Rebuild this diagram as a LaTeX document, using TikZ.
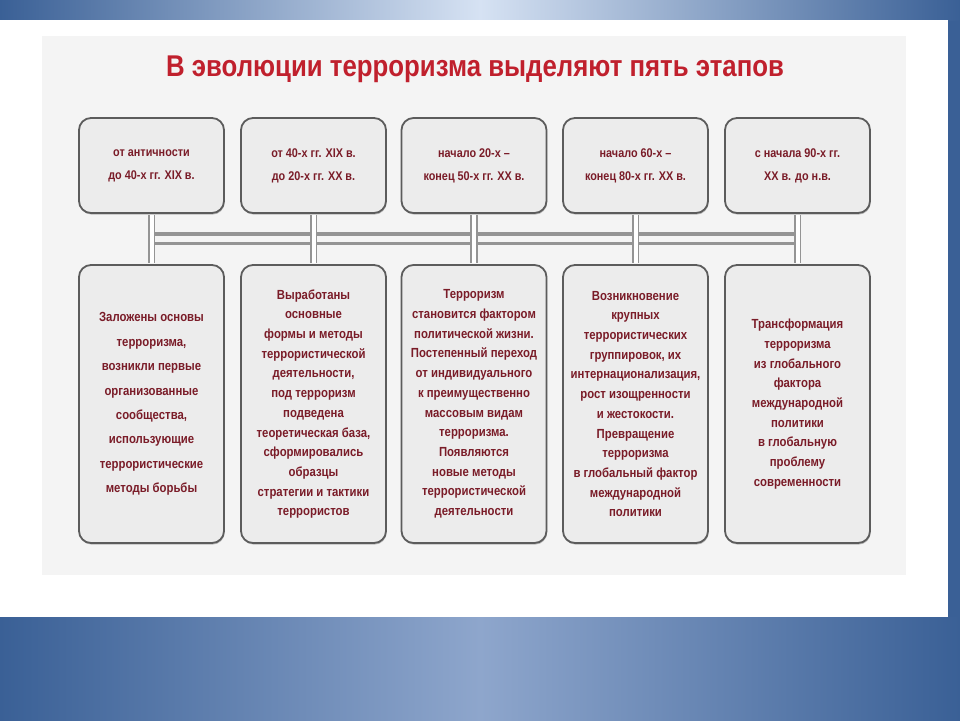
\documentclass[tikz,border=0pt]{standalone}
\usepackage{fontspec}
\setmainfont{Liberation Sans}
\newfontfamily\cond[FakeStretch=0.86]{Liberation Sans}
\usetikzlibrary{shadows}
\definecolor{bgblue}{RGB}{58,96,150}
\definecolor{bglight}{RGB}{142,166,204}
\definecolor{toplight}{RGB}{214,226,243}
\definecolor{panel}{RGB}{244,244,244}
\definecolor{boxfill}{RGB}{236,236,236}
\definecolor{boxline}{RGB}{92,92,92}
\definecolor{txtred}{RGB}{122,28,40}
\definecolor{titlered}{RGB}{192,32,45}
\definecolor{pipe}{RGB}{148,148,148}
\tikzset{
  stagebox/.style={draw=boxline, line width=1.8pt, fill=boxfill, rounded corners=12pt,
    minimum width=145pt, align=center, inner sep=0pt, text=txtred,
    drop shadow={shadow xshift=0.6pt, shadow yshift=-1.6pt, opacity=0.35, fill=black!70}},
  topbox/.style={stagebox, minimum height=95pt, font=\cond\bfseries\fontsize{12.6}{22.8}\selectfont},
  botbox/.style={stagebox, minimum height=278pt, font=\cond\bfseries\fontsize{13.2}{19.7}\selectfont},
  vpipe/.style={draw=pipe, line width=1.8pt, double=white, double distance=4pt},
  hpipe/.style={draw=pipe, line width=3.2pt, double=panel, double distance=6.5pt},
  titletext/.style={text=titlered, font=\cond\bfseries\fontsize{30}{33}\selectfont}
}
\begin{document}
\begin{tikzpicture}[x=1pt,y=-1pt]
\useasboundingbox (0,0) rectangle (960,720);
% background
\fill[bgblue] (0,0) rectangle (960,720);
\shade[left color=bgblue, right color=bgblue, middle color=toplight] (0,0) rectangle (960,20);
\shade[left color=bgblue, right color=bgblue, middle color=bglight] (0,617) rectangle (960,720);
\fill[white] (0,20) rectangle (948,617);
\fill[panel] (42,36) rectangle (906,575);
% title
\node[titletext] (title) at (475,69) {В эволюции терроризма выделяют пять этапов};
% top boxes
\node[topbox] (t1) at (151.5,165.5) {от античности\\до 40-х гг. XIX в.};
\node[topbox] (t2) at (313.5,165.5) {от 40-х гг. XIX в.\\до 20-х гг. XX в.};
\node[topbox] (t3) at (474,165.5) {начало 20-х –\\конец 50-х гг. XX в.};
\node[topbox] (t4) at (635.5,165.5) {начало 60-х –\\конец 80-х гг. XX в.};
\node[topbox] (t5) at (797.5,165.5) {с начала 90-х гг.\\XX в. до н.в.};
% bottom boxes
\node[botbox, font=\cond\bfseries\fontsize{13.2}{24.4}\selectfont] (b1) at (151.5,404) {Заложены основы\\терроризма,\\возникли первые\\организованные\\сообщества,\\использующие\\террористические\\методы борьбы};
\node[botbox] (b2) at (313.5,404) {Выработаны\\основные\\формы и методы\\террористической\\деятельности,\\под терроризм\\подведена\\теоретическая база,\\сформировались\\образцы\\стратегии и тактики\\террористов};
\node[botbox] (b3) at (474,404) {Терроризм\\становится фактором\\политической жизни.\\Постепенный переход\\от индивидуального\\к преимущественно\\массовым видам\\терроризма.\\Появляются\\новые методы\\террористической\\деятельности};
\node[botbox] (b4) at (635.5,404) {Возникновение\\крупных\\террористических\\группировок, их\\интернационализация,\\рост изощренности\\и жестокости.\\Превращение\\терроризма\\в глобальный фактор\\международной\\политики};
\node[botbox] (b5) at (797.5,404) {Трансформация\\терроризма\\из глобального\\фактора\\международной\\политики\\в глобальную\\проблему\\современности};
% connectors
\draw[hpipe] ([yshift=-25pt]t1.south) -- ([yshift=-25pt]t5.south);
\foreach \i in {1,...,5}{
  \draw[vpipe] ([yshift=-1pt]t\i.south) -- ([yshift=1pt]b\i.north);
}
\end{tikzpicture}
\end{document}
